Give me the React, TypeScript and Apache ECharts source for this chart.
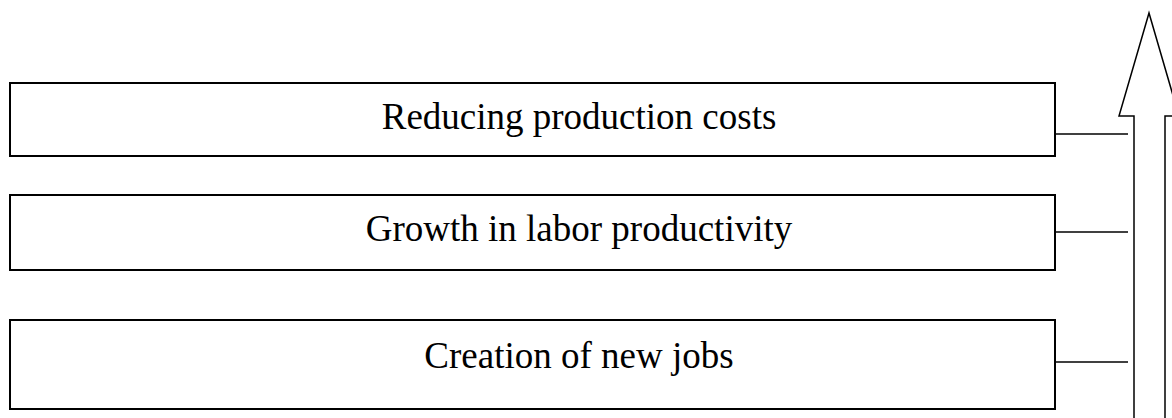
import React, { useEffect, useRef } from "react";
import * as echarts from "echarts";

// Diagram content (top to bottom)
const labels: string[] = [
  "Reducing production costs",
  "Growth in labor productivity",
  "Creation of new jobs",
];

// Layout (pixels)
const boxTops = [83, 195, 320];
const boxBottoms = [156, 270, 409];
const textY = [116, 228, 355];
const connectorY = [134, 232, 362];
const BOX_LEFT = 10;
const BOX_RIGHT = 1055;
const TEXT_CX = 579;
const CONNECTOR_END = 1128;

export default function App() {
  const ref = useRef<HTMLDivElement>(null);

  useEffect(() => {
    if (!ref.current) return;
    const chart = echarts.init(ref.current, undefined, { renderer: "svg" });

    const elements: any[] = [];
    labels.forEach((label, i) => {
      elements.push({
        type: "rect",
        shape: {
          x: BOX_LEFT,
          y: boxTops[i],
          width: BOX_RIGHT - BOX_LEFT,
          height: boxBottoms[i] - boxTops[i],
        },
        style: { fill: "#ffffff", stroke: "#000000", lineWidth: 2 },
      });
      elements.push({
        type: "text",
        x: TEXT_CX,
        y: textY[i],
        style: {
          text: label,
          fill: "#000000",
          font: '37px "Liberation Serif", "Times New Roman", serif',
          align: "center",
          verticalAlign: "middle",
        },
      });
      elements.push({
        type: "line",
        shape: { x1: BOX_RIGHT, y1: connectorY[i], x2: CONNECTOR_END, y2: connectorY[i] },
        style: { stroke: "#000000", lineWidth: 1.5 },
      });
    });

    elements.push({
      type: "polyline",
      shape: {
        points: [
          [1134, 440],
          [1134, 116],
          [1119, 116],
          [1149, 13],
          [1179, 116],
          [1165, 116],
          [1165, 440],
        ],
      },
      style: { stroke: "#000000", lineWidth: 1.5, fill: "none" },
    });

    chart.setOption({
      animation: false,
      backgroundColor: "#ffffff",
      graphic: { elements },
    });

    return () => chart.dispose();
  }, []);

  return (
    <div
      ref={ref}
      style={{ position: "fixed", left: 0, top: 0, width: 1172, height: 418, background: "#fff" }}
    />
  );
}
